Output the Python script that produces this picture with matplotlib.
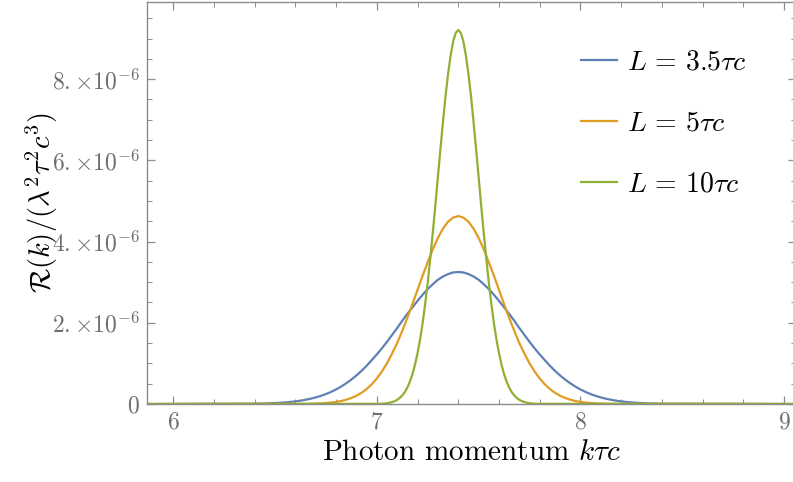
import numpy as np
import matplotlib.pyplot as plt
from matplotlib.ticker import MultipleLocator, FuncFormatter

plt.rcParams['font.family'] = 'serif'
plt.rcParams['font.serif'] = ['cmr10']
plt.rcParams['mathtext.fontset'] = 'cm'
plt.rcParams['axes.formatter.use_mathtext'] = True

# curve samples, values in units of 1e-6
x_green = np.round(np.arange(7.0125, 7.7876, 0.0125), 4)
y_green = [0.005, 0.008, 0.013, 0.020, 0.031, 0.047, 0.070,
           0.102, 0.148, 0.210, 0.294, 0.405, 0.549, 0.733, 0.963,
           1.25, 1.59, 1.99, 2.46, 2.99, 3.58, 4.22, 4.89,
           5.59, 6.28, 6.95, 7.58, 8.13, 8.58, 8.93, 9.14, 9.21,
           9.14, 8.93, 8.58, 8.13, 7.58, 6.95, 6.28, 5.59,
           4.89, 4.22, 3.58, 2.99, 2.46, 1.99, 1.59, 1.25,
           0.963, 0.733, 0.549, 0.405, 0.294, 0.210, 0.148, 0.102,
           0.070, 0.047, 0.031, 0.020, 0.013, 0.008, 0.005]

x_orange = np.round(np.arange(6.625, 8.1751, 0.025), 3)
y_orange = [0.003, 0.004, 0.006, 0.010, 0.016, 0.024, 0.035,
            0.051, 0.074, 0.106, 0.148, 0.203, 0.276, 0.368, 0.484,
            0.627, 0.798, 1.00, 1.24, 1.50, 1.80, 2.12, 2.46,
            2.81, 3.16, 3.49, 3.81, 4.09, 4.32, 4.49, 4.59, 4.63,
            4.59, 4.49, 4.32, 4.09, 3.81, 3.49, 3.16, 2.81,
            2.46, 2.12, 1.80, 1.50, 1.24, 1.00, 0.798, 0.627,
            0.484, 0.368, 0.276, 0.203, 0.148, 0.106, 0.074, 0.051,
            0.035, 0.024, 0.016, 0.010, 0.006, 0.004, 0.003]

x_blue = np.round(np.arange(6.4, 8.4001, 0.025), 3)
y_blue = [0.0071, 0.0096, 0.0129, 0.0172, 0.0228, 0.0299, 0.0389, 0.0503,
          0.0645, 0.082, 0.104, 0.130, 0.162, 0.199, 0.244, 0.297,
          0.358, 0.429, 0.510, 0.601, 0.703, 0.816, 0.940, 1.08,
          1.22, 1.37, 1.53, 1.70, 1.87, 2.05, 2.22, 2.38,
          2.54, 2.69, 2.83, 2.95, 3.06, 3.14, 3.20, 3.24, 3.25,
          3.24, 3.20, 3.14, 3.06, 2.95, 2.83, 2.69, 2.54,
          2.38, 2.22, 2.05, 1.87, 1.70, 1.53, 1.37, 1.22,
          1.08, 0.940, 0.816, 0.703, 0.601, 0.510, 0.429, 0.358,
          0.297, 0.244, 0.199, 0.162, 0.130, 0.104, 0.082, 0.0645,
          0.0503, 0.0389, 0.0299, 0.0228, 0.0172, 0.0129, 0.0096, 0.0071]

labels = [r'$L\,=\,3.5\tau c$', r'$L\,=\,5\tau c$', r'$L\,=\,10\tau c$']
colors = ['#5E81B5', '#E19C24', '#8FB032']

xmin, xmax = 5.872, 9.058
ymax = 9.9

fig = plt.figure(figsize=(7.93, 4.82), dpi=100)
ax = fig.add_axes([147 / 793, 78 / 482, 649 / 793, 402 / 482])

for xs, ys, lab, c in zip([x_blue, x_orange, x_green], [y_blue, y_orange, y_green],
                          labels, colors):
    xs = np.concatenate([[xmin], xs, [xmax]])
    ys = np.concatenate([[0.0], np.array(ys) * 1e-6, [0.0]])
    ax.plot(xs, ys, color=c, lw=1.6, label=lab)

ax.set_xlim(xmin, xmax)
ax.set_ylim(0, ymax * 1e-6)

ax.xaxis.set_major_locator(MultipleLocator(1))
ax.xaxis.set_minor_locator(MultipleLocator(0.2))
ax.yaxis.set_major_locator(MultipleLocator(2e-6))
ax.yaxis.set_minor_locator(MultipleLocator(0.5e-6))


def yfmt(v, pos):
    n = int(round(v * 1e6))
    if n == 0:
        return r'$0$'
    return r'$%d.{\times}10^{-6}$' % n


ax.yaxis.set_major_formatter(FuncFormatter(yfmt))
ax.xaxis.set_major_formatter(FuncFormatter(lambda v, p: r'$%d$' % v))

for s in ax.spines.values():
    s.set_color('#8c8c8c')
    s.set_linewidth(1.0)
ax.tick_params(which='both', direction='in', top=True, right=True,
               color='#8c8c8c', labelcolor='#6e6e6e', labelsize=17)
ax.tick_params(which='major', length=6, width=0.9, pad=5)
ax.tick_params(which='minor', length=3.5, width=0.7)

ax.set_xlabel(r'Photon momentum $k\tau c$', fontsize=21, labelpad=5)
ax.set_ylabel(r'$\mathcal{R}(k)/(\lambda^2\tau^2c^3)$', fontsize=20.5, labelpad=-6)

ax.legend(loc='upper left', bbox_to_anchor=(0.63, 0.945), frameon=False,
          fontsize=20, handlelength=1.3, handletextpad=0.35, labelspacing=1.25)

fig.savefig('out.png', dpi=100)
